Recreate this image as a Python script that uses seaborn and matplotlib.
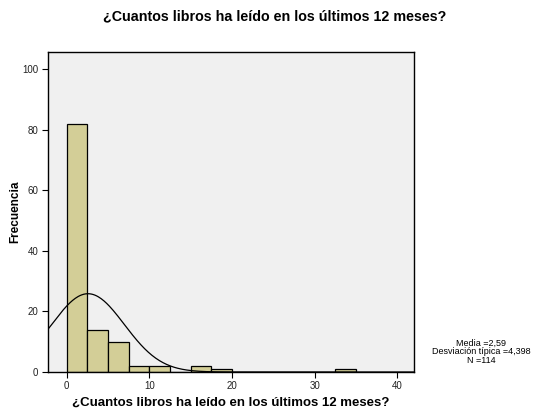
import numpy as np
import pandas as pd
import seaborn as sns
import matplotlib.pyplot as plt

# histogram data (bins of width 2.5)
bin_edges = [0, 2.5, 5, 7.5, 10, 12.5, 15, 17.5, 20, 22.5, 25, 27.5, 30, 32.5, 35]
counts = [82, 14, 10, 2, 2, 0, 2, 1, 0, 0, 0, 0, 0, 1]
media = 2.59
desv = 4.398
n_total = 114

title = '¿Cuantos libros ha leído en los últimos 12 meses?'

sns.set_theme(style='white')
plt.rcParams['font.family'] = ['Liberation Sans', 'DejaVu Sans']
plt.rcParams['text.color'] = 'black'
plt.rcParams['axes.labelcolor'] = 'black'

df = pd.DataFrame({'libros': bin_edges[:-1], 'frecuencia': counts})

fig = plt.figure(figsize=(5.37, 4.11), dpi=100)
ax = fig.add_axes([0.0885, 0.0949, 0.6825, 0.778])
ax.set_facecolor('#F0F0F0')

sns.histplot(data=df, x='libros', weights='frecuencia', bins=bin_edges,
             color='#D3CE97', edgecolor='black', linewidth=0.9, alpha=1, ax=ax)

# curva normal
xs = np.linspace(-2.5, 42, 400)
binw = 2.5
ys = n_total * binw / (desv * np.sqrt(2 * np.pi)) * np.exp(-0.5 * ((xs - media) / desv) ** 2)
ax.plot(xs, ys, color='black', linewidth=0.9)

ax.set_xlim(-2.3, 42)
ax.set_ylim(0, 105.6)
ax.set_xticks([0, 10, 20, 30, 40])
ax.set_yticks([0, 20, 40, 60, 80, 100])
ax.tick_params(axis='both', direction='out', length=4, width=0.8, labelsize=7,
               color='black', labelcolor='#222222', bottom=True, left=True, pad=2.5)
for sp in ax.spines.values():
    sp.set_color('black')
    sp.set_linewidth(1.0)

ax.set_xlabel(title, fontsize=9.5, fontweight='bold', labelpad=4)
ax.set_ylabel('Frecuencia', fontsize=8.5, fontweight='bold', labelpad=1)

fig.text(0.511, 0.961, title, ha='center', va='center', fontsize=10.3, fontweight='bold')
fig.text(0.896, 0.1436,
         'Media =%s\nDesviación típica =%s\nN =%d' % (str(media).replace('.', ','),
                                                     str(desv).replace('.', ','), n_total),
         ha='center', va='center', fontsize=6.5, linespacing=1.0)

fig.savefig('out.png', dpi=100)
